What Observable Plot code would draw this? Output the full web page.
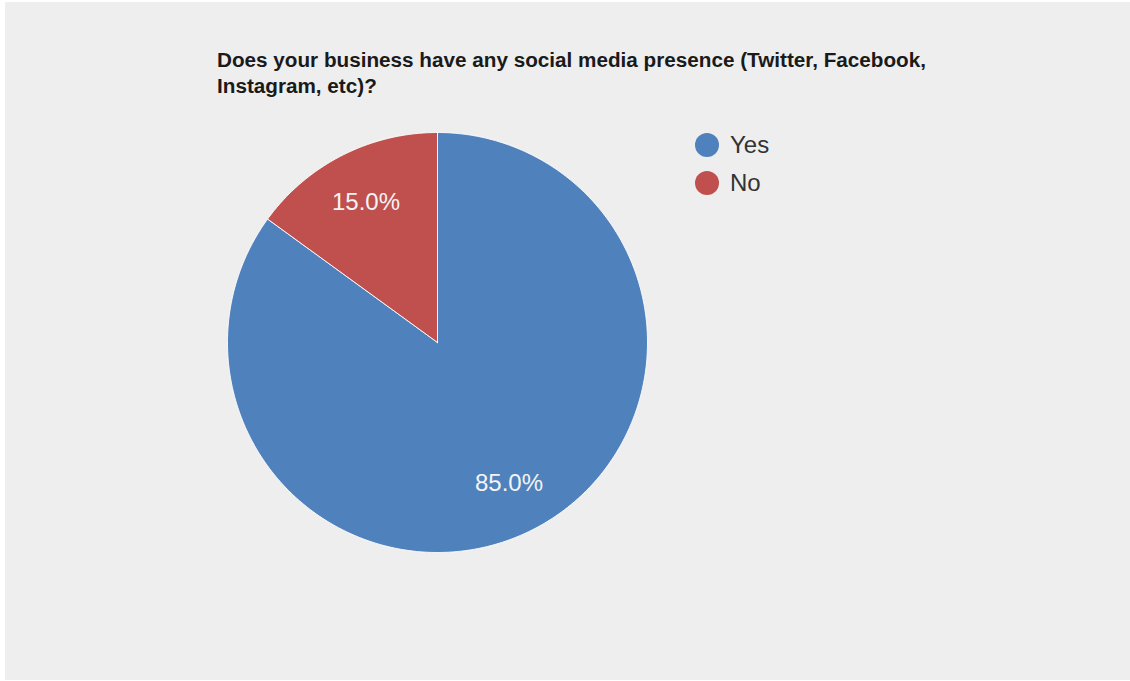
<!DOCTYPE html>
<html>
<head>
<meta charset="utf-8">
<script src="https://cdn.jsdelivr.net/npm/d3@7"></script>
<script src="https://cdn.jsdelivr.net/npm/@observablehq/plot@0.6"></script>
<style>
  html, body { margin: 0; padding: 0; background: #ffffff; }
  #frame {
    position: absolute; left: 5px; top: 2px; width: 1125px; height: 678px;
    background: #eeeeee; overflow: hidden;
    font-family: "Liberation Sans", Arial, sans-serif;
  }
  #title {
    position: absolute; left: 212px; top: 45px; white-space: nowrap;
    font-size: 20.7px; font-weight: bold; color: #1a1a1a; line-height: 26px;
  }
  #chart { position: absolute; left: 0; top: 0; }
  #legend { position: absolute; left: 690px; top: 124px; }
  .item { display: flex; align-items: center; height: 38px; font-size: 24px; color: #333; }
  .sw { width: 24px; height: 24px; border-radius: 50%; margin-right: 11px; }
</style>
</head>
<body>
<div id="frame">
  <div id="chart"></div>
  <div id="title"></div>
  <div id="legend"></div>
</div>
<script>
const titleLines = ["Does your business have any social media presence (Twitter, Facebook,", "Instagram, etc)?"];
const categories = ["Yes", "No"];
const values = [85.0, 15.0];
const colors = ["#4f81bd", "#c0504d"];

document.getElementById("title").innerHTML = titleLines.join("<br>");

const legend = document.getElementById("legend");
categories.forEach((c, i) => {
  const it = document.createElement("div");
  it.className = "item";
  it.innerHTML = `<span class="sw" style="background:${colors[i]}"></span><span>${c}</span>`;
  legend.appendChild(it);
});

const total = d3.sum(values);
const arcs = d3.pie().sort(null).value(d => d)(values);

// Build polygon outlines for each slice (unit circle coordinates, angle clockwise from top)
const poly = [];
arcs.forEach((a, i) => {
  const cat = categories[i];
  poly.push({cat, x: 0, y: 0});
  const n = Math.max(2, Math.ceil((a.endAngle - a.startAngle) / (Math.PI / 360)));
  for (let k = 0; k <= n; k++) {
    const t = a.startAngle + (a.endAngle - a.startAngle) * k / n;
    poly.push({cat, x: Math.sin(t), y: Math.cos(t)});
  }
  poly.push({cat, x: 0, y: 0});
});

const labels = arcs.map((a, i) => {
  const m = (a.startAngle + a.endAngle) / 2;
  return {cat: categories[i], x: 0.75 * Math.sin(m), y: 0.75 * Math.cos(m),
          text: (values[i] / total * 100).toFixed(1) + "%"};
});

const cx = 432, cy = 340, r = 210;
const plot = Plot.plot({
  width: 1125, height: 678,
  margin: 0,
  style: {background: "transparent", fontFamily: "Liberation Sans, Arial, sans-serif"},
  x: {domain: [-1, 1], range: [cx - r, cx + r], axis: null},
  y: {domain: [-1, 1], range: [cy + r, cy - r], axis: null},
  color: {domain: categories, range: colors},
  marks: [
    Plot.line(poly, {x: "x", y: "y", z: "cat", fill: "cat", stroke: "#ffffff", strokeWidth: 1, strokeOpacity: 0.9, curve: "linear-closed"}),
    Plot.text(labels, {x: "x", y: "y", text: "text", fill: "#f4f4f4", fontSize: 24})
  ]
});
document.getElementById("chart").appendChild(plot);
</script>
</body>
</html>
